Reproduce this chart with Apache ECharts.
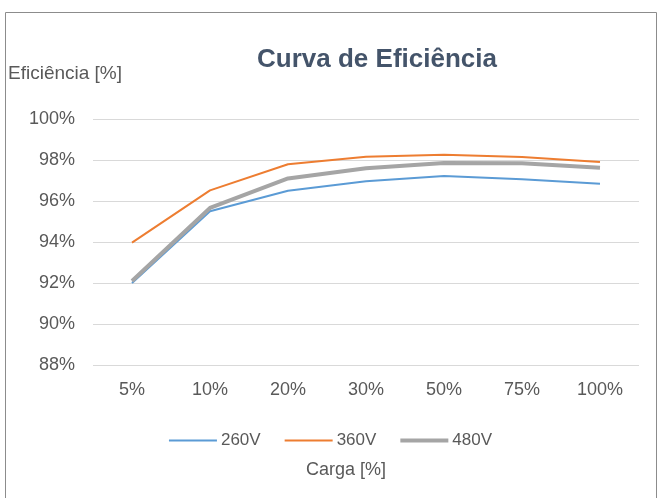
<!DOCTYPE html>
<html><head><meta charset="utf-8">
<script src="https://cdn.jsdelivr.net/npm/echarts@6/dist/echarts.min.js"></script>
<style>html,body{margin:0;padding:0;background:#fff}#c{width:661px;height:498px}</style>
</head><body><div id="c"></div>
<script>
const categories = ['5%','10%','20%','30%','50%','75%','100%'];
const v260 = [92.0, 95.5, 96.5, 96.96, 97.22, 97.06, 96.84];
const v360 = [93.97, 96.52, 97.79, 98.16, 98.26, 98.15, 97.9];
const v480 = [92.1, 95.66, 97.1, 97.6, 97.85, 97.84, 97.62];
const yMin = 88, yMax = 100, yStep = 2;

const font = 'Liberation Sans, Arial, sans-serif';
const chart = echarts.init(document.getElementById('c'));
chart.setOption({
  animation: false,
  textStyle: {fontFamily: font},
  title: {text: 'Curva de Eficiência', left: 372, top: 42, textAlign: 'center',
    textStyle: {fontFamily: font, fontSize: 26, fontWeight: 'bold', color: '#44546a'}},
  graphic: [
    {type: 'rect', shape: {x: 5.5, y: 12.5, width: 651, height: 500}, style: {fill: 'none', stroke: '#8c8c8c', lineWidth: 1}, silent: true},
    {type: 'text', left: 8, top: 64, style: {text: 'Eficiência [%]', fontFamily: font, fontSize: 19, fill: '#595959'}},
    {type: 'text', left: 306, top: 461, style: {text: 'Carga [%]', fontFamily: font, fontSize: 18, fill: '#595959'}}
  ],
  legend: {top: 427, left: 'center', itemWidth: 48, itemHeight: 14, itemGap: 24,
    textStyle: {fontFamily: font, fontSize: 17, color: '#595959', padding: [0,0,0,-1]},
    data: [
      {name: '260V', icon: 'path://M0,6 L50,6 L50,8 L0,8 Z'},
      {name: '360V', icon: 'path://M0,6 L50,6 L50,8 L0,8 Z'},
      {name: '480V', icon: 'path://M0,5 L50,5 L50,9 L0,9 Z'}
    ]},
  grid: {left: 93, right: 22, top: 119, bottom: 133, containLabel: false},
  xAxis: {type: 'category', data: categories, boundaryGap: true,
    axisLine: {show: false}, axisTick: {show: false},
    axisLabel: {fontFamily: font, fontSize: 18, color: '#595959', margin: 16}},
  yAxis: {type: 'value', min: yMin, max: yMax, interval: yStep,
    axisLine: {show: false}, axisTick: {show: false},
    axisLabel: {formatter: v => v + '%', fontFamily: font, fontSize: 18, color: '#595959', margin: 18},
    splitLine: {lineStyle: {color: '#d9d9d9', width: 1}}},
  series: [
    {name: '260V', type: 'line', data: v260, symbol: 'none', lineStyle: {color: '#5b9bd5', width: 2}, itemStyle: {color: '#5b9bd5'}},
    {name: '360V', type: 'line', data: v360, symbol: 'none', lineStyle: {color: '#ed7d31', width: 2}, itemStyle: {color: '#ed7d31'}},
    {name: '480V', type: 'line', data: v480, symbol: 'none', lineStyle: {color: '#a5a5a5', width: 4}, itemStyle: {color: '#a5a5a5'}}
  ]
});
</script></body></html>
